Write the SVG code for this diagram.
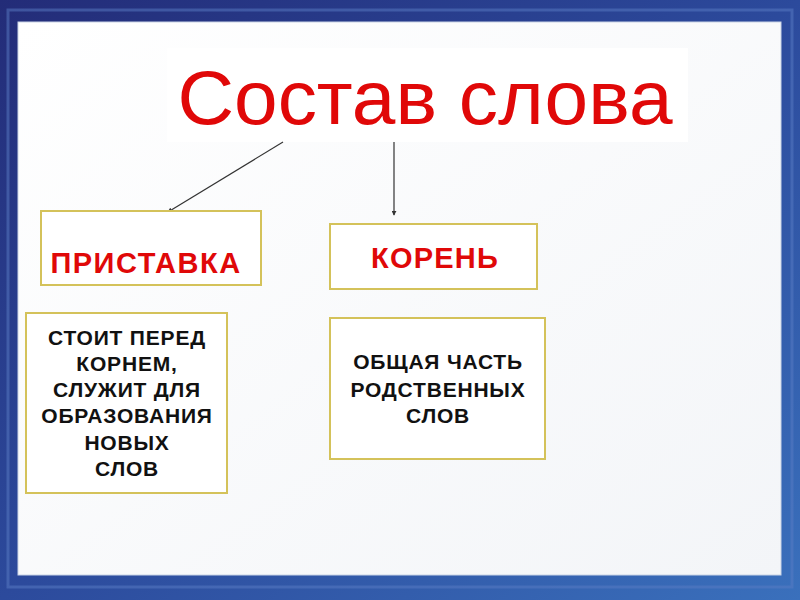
<svg xmlns="http://www.w3.org/2000/svg" width="800" height="600" viewBox="0 0 800 600">
  <defs>
    <linearGradient id="frame" x1="0" y1="0" x2="1" y2="1">
      <stop offset="0" stop-color="#232c78"/>
      <stop offset="0.5" stop-color="#2c4a9c"/>
      <stop offset="1" stop-color="#3a70bc"/>
    </linearGradient>
    <linearGradient id="panel" x1="0" y1="0" x2="1" y2="1">
      <stop offset="0" stop-color="#ffffff"/>
      <stop offset="1" stop-color="#f3f5f8"/>
    </linearGradient>
    <marker id="arr" viewBox="0 0 6 6" refX="5" refY="3" markerWidth="5" markerHeight="5" orient="auto" markerUnits="userSpaceOnUse">
      <path d="M0,0 L6,3 L0,6 z" fill="#333"/>
    </marker>
    <style>
      .box { fill: #ffffff; stroke: #d4c25a; stroke-width: 2; }
      .red { font-family: "Liberation Sans", Arial, sans-serif; font-weight: bold; fill: #e00808; text-anchor: middle; }
      .blk { font-family: "Liberation Sans", Arial, sans-serif; font-weight: bold; fill: #111111; text-anchor: middle; font-size: 21px; letter-spacing: 0.8px; }
      .conn { stroke: #333333; stroke-width: 1.2; fill: none; }
    </style>
  </defs>

  <rect x="0" y="0" width="800" height="600" fill="url(#frame)"/>
  <rect x="8" y="10" width="784" height="577" fill="none" stroke="#5a7cc4" stroke-width="3" opacity="0.5"/>
  <rect x="18" y="22" width="763" height="553" fill="url(#panel)" stroke="#c9d4e6" stroke-width="1"/>

  <g id="title">
    <rect x="167" y="48" width="521" height="94" fill="#ffffff"/>
    <text x="425" y="124" font-family="Liberation Sans, Arial, sans-serif" font-size="76" fill="#e00808" text-anchor="middle" textLength="495" lengthAdjust="spacingAndGlyphs">Состав слова</text>
  </g>

  <g id="connectors">
    <line class="conn" x1="283" y1="142" x2="168" y2="212" marker-end="url(#arr)"/>
    <line class="conn" x1="394" y1="142" x2="394" y2="215" marker-end="url(#arr)"/>
  </g>

  <g id="prefix">
    <rect class="box" x="41" y="211" width="220" height="74"/>
    <text class="red" x="146" y="273" font-size="29" letter-spacing="1.5">ПРИСТАВКА</text>
  </g>

  <g id="root">
    <rect class="box" x="330" y="224" width="207" height="65"/>
    <text class="red" x="435" y="268" font-size="29" letter-spacing="1.2">КОРЕНЬ</text>
  </g>

  <g id="prefix-desc">
    <rect class="box" x="26" y="313" width="201" height="180"/>
    <text class="blk" x="127" y="345">СТОИТ ПЕРЕД</text>
    <text class="blk" x="127" y="371">КОРНЕМ,</text>
    <text class="blk" x="127" y="397">СЛУЖИТ ДЛЯ</text>
    <text class="blk" x="127" y="423">ОБРАЗОВАНИЯ</text>
    <text class="blk" x="127" y="450">НОВЫХ</text>
    <text class="blk" x="127" y="476">СЛОВ</text>
  </g>

  <g id="root-desc">
    <rect class="box" x="330" y="318" width="215" height="141"/>
    <text class="blk" x="438" y="369">ОБЩАЯ ЧАСТЬ</text>
    <text class="blk" x="438" y="397">РОДСТВЕННЫХ</text>
    <text class="blk" x="438" y="423">СЛОВ</text>
  </g>
</svg>
